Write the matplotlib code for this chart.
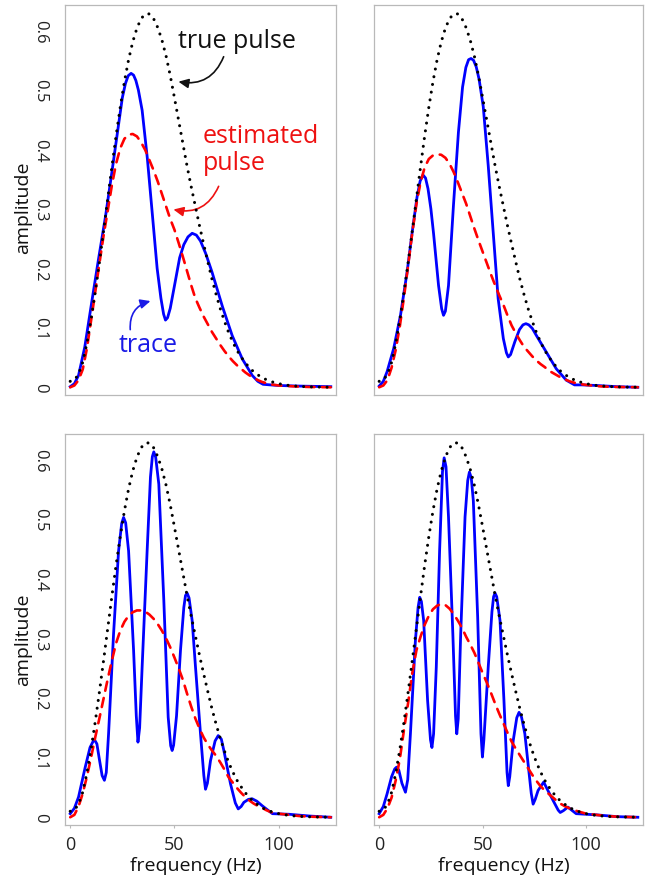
import matplotlib
matplotlib.use("Agg")
import matplotlib.pyplot as plt

# ---------------------------------------------------------------------------
# Amplitude spectra (frequency in Hz)
# ---------------------------------------------------------------------------
pulse_freq = list(range(0, 101, 2)) + [105, 110, 115, 120, 125]

true_pulse = [0.010, 0.012, 0.022, 0.042, 0.074, 0.114, 0.160, 0.210, 0.263, 0.317,
              0.371, 0.423, 0.471, 0.514, 0.551, 0.581, 0.604, 0.620, 0.628, 0.628,
              0.620, 0.605, 0.584, 0.557, 0.524, 0.487, 0.449, 0.411, 0.373, 0.338,
              0.305, 0.272, 0.241, 0.211, 0.182, 0.156, 0.132, 0.111, 0.092, 0.076,
              0.062, 0.051, 0.041, 0.033, 0.026, 0.021, 0.016, 0.013, 0.010, 0.008,
              0.006, 0.003, 0.0015, 0.0007, 0.0003, 0.0001]

est_pulse_a = [0.000, 0.003, 0.012, 0.030, 0.065, 0.112, 0.160, 0.208, 0.255, 0.297,
               0.340, 0.376, 0.402, 0.418, 0.425, 0.426, 0.422, 0.412, 0.399, 0.382,
               0.365, 0.346, 0.325, 0.304, 0.283, 0.265, 0.243, 0.220, 0.196, 0.172,
               0.150, 0.134, 0.119, 0.106, 0.093, 0.082, 0.071, 0.061, 0.052, 0.044,
               0.037, 0.031, 0.025, 0.020, 0.016, 0.012, 0.009, 0.007, 0.005, 0.004,
               0.003, 0.002, 0.001, 0.0005, 0.0003, 0.0]

est_pulse_b = [0.000, 0.003, 0.012, 0.033, 0.063, 0.103, 0.152, 0.205, 0.260, 0.308,
               0.345, 0.370, 0.384, 0.390, 0.392, 0.391, 0.386, 0.376, 0.362, 0.345,
               0.327, 0.309, 0.288, 0.267, 0.247, 0.228, 0.209, 0.190, 0.172, 0.155,
               0.139, 0.121, 0.104, 0.091, 0.079, 0.068, 0.060, 0.052, 0.045, 0.039,
               0.034, 0.028, 0.024, 0.020, 0.016, 0.013, 0.010, 0.008, 0.006, 0.005,
               0.004, 0.002, 0.001, 0.0005, 0.0003, 0.0]

est_pulse_c = [0.000, 0.004, 0.018, 0.040, 0.068, 0.100, 0.134, 0.166, 0.199, 0.232,
               0.263, 0.292, 0.313, 0.328, 0.338, 0.344, 0.347, 0.347, 0.345, 0.340,
               0.333, 0.324, 0.313, 0.300, 0.285, 0.268, 0.250, 0.231, 0.208, 0.186,
               0.166, 0.149, 0.134, 0.122, 0.112, 0.103, 0.092, 0.080, 0.067, 0.058,
               0.049, 0.041, 0.034, 0.028, 0.023, 0.019, 0.016, 0.012, 0.009, 0.007,
               0.006, 0.004, 0.002, 0.001, 0.0005, 0.0]

est_pulse_d = [0.000, 0.004, 0.015, 0.033, 0.062, 0.098, 0.147, 0.192, 0.242, 0.280,
               0.303, 0.323, 0.338, 0.349, 0.355, 0.358, 0.356, 0.350, 0.341, 0.330,
               0.318, 0.303, 0.290, 0.276, 0.259, 0.242, 0.226, 0.209, 0.191, 0.174,
               0.158, 0.142, 0.127, 0.115, 0.104, 0.093, 0.082, 0.071, 0.061, 0.052,
               0.045, 0.039, 0.033, 0.027, 0.022, 0.018, 0.015, 0.012, 0.010, 0.008,
               0.006, 0.004, 0.002, 0.001, 0.0005, 0.0]

# traces: (frequency, amplitude) pairs
trace_a = [(0, 0.001), (2, 0.006), (4, 0.020), (7, 0.068), (10, 0.136), (13.5, 0.214),
           (17, 0.289), (20, 0.362), (23, 0.437), (25, 0.487), (26.5, 0.511),
           (27.8, 0.524), (29.2, 0.528), (30.4, 0.525), (31.5, 0.516), (32.7, 0.500),
           (34.5, 0.466), (37, 0.385), (39.3, 0.295), (41.7, 0.200), (43.5, 0.150),
           (44.8, 0.123), (45.7, 0.113), (46.7, 0.117), (48, 0.133), (50.5, 0.180),
           (52.5, 0.218), (54.5, 0.240), (56.5, 0.253), (58.5, 0.259), (60.5, 0.256),
           (62.5, 0.246), (65, 0.225), (68, 0.194), (73, 0.136), (77.7, 0.087),
           (82.5, 0.048), (87.3, 0.020), (90, 0.010), (92.5, 0.005), (96, 0.004),
           (100, 0.003), (110, 0.002), (125, 0.001)]

trace_b = [(0, 0.002), (2, 0.010), (3.8, 0.026), (7, 0.065), (10.3, 0.121), (13.5, 0.194),
           (16, 0.262), (18.3, 0.320), (19.8, 0.347), (21.2, 0.357), (22.4, 0.352),
           (23.6, 0.334), (25, 0.300), (26.3, 0.258), (28.7, 0.171), (30.2, 0.132),
           (31.1, 0.121), (32, 0.128), (33.5, 0.171), (35.9, 0.306), (38.3, 0.429),
           (40.3, 0.505), (41.9, 0.538), (43.2, 0.551), (44.4, 0.553), (45.6, 0.550),
           (46.9, 0.539), (48.3, 0.518), (50.3, 0.472), (52.7, 0.373), (55.1, 0.261),
           (57.5, 0.149), (60, 0.082), (61.5, 0.058), (62.4, 0.051), (63.5, 0.055),
           (65.6, 0.077), (67.8, 0.097), (69.5, 0.105), (70.9, 0.107), (72.3, 0.105),
           (74, 0.099), (76, 0.087), (80.8, 0.059), (85.6, 0.031), (90.4, 0.012),
           (94.4, 0.004), (98, 0.004), (105, 0.003), (115, 0.001), (125, 0.0)]

trace_c = [(0, 0.006), (2, 0.015), (4, 0.034), (7.2, 0.084), (9.5, 0.117), (11.5, 0.131),
           (12.8, 0.123), (14, 0.097), (15.3, 0.070), (16.4, 0.062), (17.3, 0.075),
           (18.4, 0.140), (20.8, 0.308), (23.2, 0.447), (24.7, 0.493), (25.6, 0.503),
           (26.6, 0.494), (28, 0.447), (30.4, 0.280), (31.7, 0.170), (32.5, 0.126),
           (33.3, 0.150), (34.5, 0.252), (36.9, 0.447), (38.5, 0.571), (39.4, 0.605),
           (40.1, 0.613), (41, 0.604), (42.5, 0.559), (44.9, 0.364), (47, 0.168),
           (48.2, 0.120), (48.9, 0.112), (49.6, 0.121), (51, 0.170), (52.9, 0.280),
           (54.5, 0.352), (55.3, 0.372), (56.1, 0.376), (57, 0.368), (58.5, 0.330),
           (60.1, 0.252), (62.5, 0.140), (64.1, 0.070), (64.9, 0.047), (65.8, 0.057),
           (67.3, 0.095), (69.5, 0.128), (71, 0.137), (72.5, 0.131), (73.7, 0.112),
           (76.9, 0.056), (79.2, 0.024), (80.6, 0.014), (82, 0.018), (83.3, 0.025),
           (85.5, 0.030), (87.3, 0.031), (89.5, 0.027), (92.2, 0.019), (97, 0.006),
           (105, 0.005), (115, 0.002), (125, 0.0)]

trace_d = [(0, 0.006), (2, 0.018), (3.8, 0.039), (6, 0.068), (7.5, 0.081), (8.4, 0.084),
           (9.5, 0.079), (11, 0.057), (12.7, 0.042), (13.8, 0.063), (15.1, 0.140),
           (17.5, 0.296), (18.8, 0.352), (19.6, 0.369), (20.4, 0.362), (21.5, 0.330),
           (23.4, 0.196), (24.8, 0.130), (25.5, 0.117), (26.3, 0.140), (27.6, 0.252),
           (29.2, 0.447), (30.6, 0.580), (31.4, 0.603), (32.3, 0.588), (33.5, 0.504),
           (35.6, 0.308), (36.9, 0.170), (37.5, 0.140), (38.2, 0.165), (39.4, 0.308),
           (41.5, 0.504), (42.8, 0.565), (43.6, 0.579), (44.5, 0.570), (45.5, 0.531),
           (47.6, 0.336), (49.2, 0.140), (49.9, 0.101), (50.6, 0.130), (52.7, 0.252),
           (54.5, 0.345), (55.3, 0.370), (56, 0.376), (56.8, 0.370), (58.4, 0.330),
           (60.3, 0.196), (61.8, 0.075), (62.4, 0.053), (63.1, 0.068), (64.8, 0.129),
           (66.5, 0.167), (67.6, 0.176), (68.8, 0.168), (70.4, 0.140), (73.5, 0.040),
           (74.4, 0.022), (75.4, 0.030), (76.8, 0.045), (79.5, 0.059), (82.4, 0.039),
           (86.5, 0.012), (87.5, 0.008), (89, 0.011), (91.2, 0.017), (95.2, 0.006),
           (105, 0.004), (115, 0.001), (125, 0.0)]

y_ticks = [0, 0.1, 0.2, 0.3, 0.4, 0.5, 0.6]
y_tick_labels = ["0", "0.1", "0.2", "0.3", "0.4", "0.5", "0.6"]
x_ticks = [0, 50, 100]
x_tick_labels = ["0", "50", "100"]

# ---------------------------------------------------------------------------
W, H = 647, 879
fig = plt.figure(figsize=(W / 100, H / 100), dpi=100)
fig.patch.set_facecolor("white")


def box(left, top, right, bottom):
    return [left / W, 1 - bottom / H, (right - left) / W, (bottom - top) / H]


panels = [
    (box(65, 6, 336, 396), trace_a, est_pulse_a, True, False),
    (box(374, 6, 643, 396), trace_b, est_pulse_b, False, False),
    (box(65, 435, 336, 826), trace_c, est_pulse_c, True, True),
    (box(374, 435, 643, 826), trace_d, est_pulse_d, False, True),
]

FRAME = "#b9b9b9"
axes = []
for rect, trace, est, show_y, show_x in panels:
    ax = fig.add_axes(rect)
    tf, tv = zip(*trace)
    ax.plot(tf, tv, color="#0000ff", lw=2.0, solid_joinstyle="round", zorder=3)
    ax.plot(pulse_freq, est, color="#ff0000", lw=1.9, linestyle=(0, (3.5, 2.8)),
            dash_capstyle="round", zorder=4)
    ax.plot(pulse_freq, true_pulse, color="black", lw=2.2, linestyle=(0, (0.01, 2.55)),
            dash_capstyle="round", zorder=5)
    ax.set_xlim(-2.5, 127.5)
    ax.set_ylim(-0.013, 0.643)
    for sp in ax.spines.values():
        sp.set_color(FRAME)
        sp.set_linewidth(0.9)
    if show_y:
        ax.set_yticks(y_ticks)
        ax.set_yticklabels(y_tick_labels, rotation=270, va="center", ha="right",
                           family="Open Sans", fontsize=12, color="#222222")
        ax.tick_params(axis="y", length=0, pad=12)
    else:
        ax.set_yticks([])
    if show_x:
        ax.set_xticks(x_ticks)
        ax.set_xticklabels(x_tick_labels, family="Open Sans", fontsize=13, color="#222222")
        ax.tick_params(axis="x", length=2.5, width=0.8, color=FRAME, pad=4.5)
    else:
        ax.set_xticks([])
    axes.append(ax)

# axis titles
lab = dict(family="Open Sans", fontsize=14, color="#111111", ha="center", va="center")
fig.text(23.5 / W, 1 - 208 / H, "amplitude", rotation=90, **lab)
fig.text(23.5 / W, 1 - 640 / H, "amplitude", rotation=90, **lab)
fig.text(196 / W, 1 - 866 / H, "frequency (Hz)", **lab)
fig.text(504 / W, 1 - 866 / H, "frequency (Hz)", **lab)

# annotations in the first panel
ax0 = axes[0]
ann = dict(family="Open Sans", fontsize=18, ha="left", va="center")
ax0.text(51.9, 0.583, "true pulse", color="#111111", **ann)
ax0.text(63.5, 0.401, "estimated\npulse", color="#ee1111", linespacing=1.12, **ann)
ax0.text(23.1, 0.072, "trace", color="#1a1ae6", **ann)


def curved_arrow(ax, tip, tail, color, rad):
    ax.annotate("", xy=tip, xytext=tail,
                arrowprops=dict(arrowstyle="-|>,head_length=0.6,head_width=0.28",
                                color=color, lw=1.2, shrinkA=0, shrinkB=0,
                                connectionstyle=f"arc3,rad={rad}"))


curved_arrow(ax0, (51.9, 0.514), (73.6, 0.556), "#111111", -0.4)
curved_arrow(ax0, (49.5, 0.299), (71.2, 0.338), "#ee1111", -0.4)
curved_arrow(ax0, (38.5, 0.145), (28.8, 0.097), "#1a1ae6", -0.4)

fig.savefig("out.png", dpi=100, facecolor="white")
